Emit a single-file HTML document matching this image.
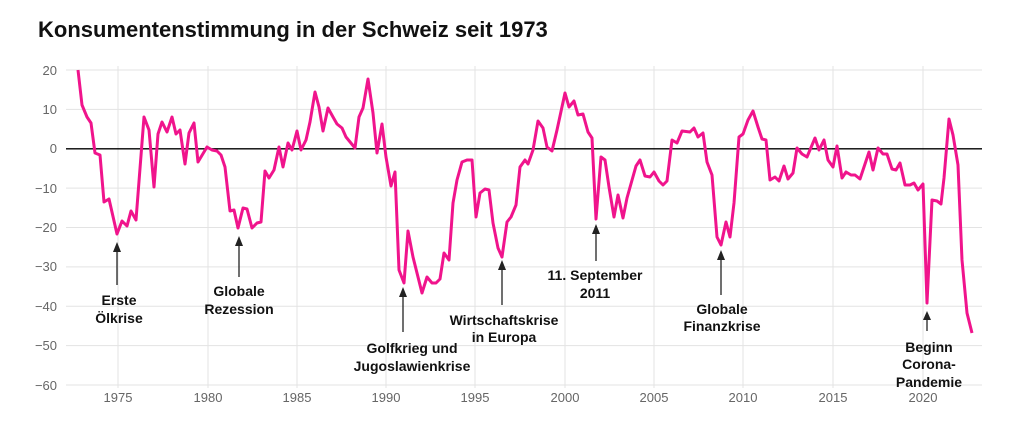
<!DOCTYPE html>
<html><head><meta charset="utf-8"><style>
body{margin:0;background:#fff;}
svg text{font-family:"Liberation Sans",sans-serif;}
</style></head><body>
<svg width="1024" height="433" viewBox="0 0 1024 433" xmlns="http://www.w3.org/2000/svg">
<text x="38" y="37" font-size="22" font-weight="bold" fill="#111">Konsumentenstimmung in der Schweiz seit 1973</text>
<g stroke="#e3e3e3" stroke-width="1">
<line x1="66" x2="982" y1="70" y2="70"/><line x1="66" x2="982" y1="109.4" y2="109.4"/>
<line x1="66" x2="982" y1="188.1" y2="188.1"/><line x1="66" x2="982" y1="227.5" y2="227.5"/>
<line x1="66" x2="982" y1="266.9" y2="266.9"/><line x1="66" x2="982" y1="306.3" y2="306.3"/>
<line x1="66" x2="982" y1="345.6" y2="345.6"/><line x1="66" x2="982" y1="385" y2="385"/>
<line x1="118" x2="118" y1="66" y2="388"/><line x1="208" x2="208" y1="66" y2="388"/>
<line x1="297" x2="297" y1="66" y2="388"/><line x1="386" x2="386" y1="66" y2="388"/>
<line x1="475" x2="475" y1="66" y2="388"/><line x1="565" x2="565" y1="66" y2="388"/>
<line x1="654" x2="654" y1="66" y2="388"/><line x1="743" x2="743" y1="66" y2="388"/>
<line x1="833" x2="833" y1="66" y2="388"/><line x1="923" x2="923" y1="66" y2="388"/>
</g>
<g font-size="13" fill="#666" text-anchor="end">
<text x="57" y="75">20</text><text x="57" y="114">10</text><text x="57" y="153">0</text>
<text x="57" y="193">−10</text><text x="57" y="232">−20</text><text x="57" y="271">−30</text>
<text x="57" y="311">−40</text><text x="57" y="350">−50</text><text x="57" y="390">−60</text>
</g>
<g font-size="13" fill="#666" text-anchor="middle">
<text x="118" y="402">1975</text><text x="208" y="402">1980</text><text x="297" y="402">1985</text>
<text x="386" y="402">1990</text><text x="475" y="402">1995</text><text x="565" y="402">2000</text>
<text x="654" y="402">2005</text><text x="743" y="402">2010</text><text x="833" y="402">2015</text>
<text x="923" y="402">2020</text>
</g>
<line x1="66" x2="982" y1="148.8" y2="148.8" stroke="#000" stroke-width="1.3"/>
<polyline fill="none" stroke="#f0148c" stroke-width="3" stroke-linejoin="round" points="78,70 82,105 87,117 91,123 95,153 100,155 104,202 109,199 117,234 122,221 127,226 131,211 136,220 144,117 149,130 154,187 158,134 162,122 167,132 172,117 176,134 180,130 185,164 189,133 194,123 198,162 207,147 212,150 217,151 221,155 225,167 230,211 234,210 238,228 243,208 247,209 252,228 257,223 261,222 265,171 269,178 274,170 279,147 283,167 288,143 292,150 297,131 301,150 306,140 310,122 315,92 319,107 323,131 328,108 333,117 337,124 342,128 346,137 355,148 359,117 363,108 368,79 373,113 377,153 382,124 386,157 391,186 395,172 399,270 404,283 408,231 413,257 422,293 427,277 432,283 436,283 440,279 444,253 449,260 453,203 457,180 462,162 467,160 472,160 476,217 480,193 485,189 489,190 493,223 498,248 502,257 507,222 511,217 516,205 520,167 525,160 528,164 533,150 538,121 543,128 547,147 552,151 557,130 565,93 569,107 574,101 578,115 583,114 588,132 592,138 596,219 601,157 605,160 609,187 614,217 618,195 623,218 627,198 636,166 640,160 645,176 650,177 654,172 659,181 663,185 667,181 672,140 677,143 682,131 690,132 694,128 698,137 703,133 707,162 712,175 717,237 721,245 726,222 730,237 734,203 739,137 743,134 748,120 753,111 758,127 762,139 766,140 770,180 775,177 779,181 784,166 788,179 793,173 797,148 802,154 807,157 815,138 819,150 824,140 828,160 833,167 837,146 842,178 846,172 851,175 855,175 860,179 869,152 873,170 878,148 883,154 887,154 892,169 896,170 900,163 905,185 910,185 914,183 918,190 923,184 927,303 932,200 937,201 941,204 944,178 949,119 953,135 958,165 962,260 967,313 972,333"/>
<g stroke="#222" stroke-width="1.3" fill="#222">
<line x1="117" y1="250" x2="117" y2="285"/><polygon points="117,242 113,252 121,252" stroke="none"/>
<line x1="239" y1="244" x2="239" y2="277"/><polygon points="239,236 235,246 243,246" stroke="none"/>
<line x1="403" y1="295" x2="403" y2="332"/><polygon points="403,287 399,297 407,297" stroke="none"/>
<line x1="502" y1="268" x2="502" y2="305"/><polygon points="502,260 498,270 506,270" stroke="none"/>
<line x1="596" y1="232" x2="596" y2="261"/><polygon points="596,224 592,234 600,234" stroke="none"/>
<line x1="721" y1="258" x2="721" y2="295"/><polygon points="721,250 717,260 725,260" stroke="none"/>
<line x1="927" y1="318" x2="927" y2="331"/><polygon points="927,311 923,320 931,320" stroke="none"/>
</g>
<g font-size="14" font-weight="bold" fill="#111" text-anchor="middle">
<text x="119" y="305">Erste</text><text x="119" y="323">Ölkrise</text>
<text x="239" y="296">Globale</text><text x="239" y="314">Rezession</text>
<text x="412" y="353">Golfkrieg und</text><text x="412" y="371">Jugoslawienkrise</text>
<text x="504" y="325">Wirtschaftskrise</text><text x="504" y="342">in Europa</text>
<text x="595" y="280">11. September</text><text x="595" y="298">2011</text>
<text x="722" y="314">Globale</text><text x="722" y="331">Finanzkrise</text>
<text x="929" y="352">Beginn</text><text x="929" y="369">Corona-</text><text x="929" y="387">Pandemie</text>
</g>
</svg>
</body></html>
